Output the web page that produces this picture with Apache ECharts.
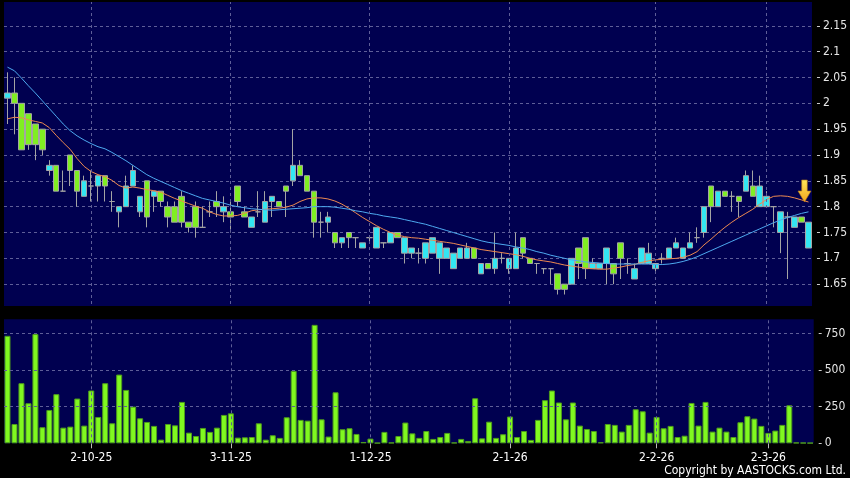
<!DOCTYPE html>
<html><head><meta charset="utf-8">
<script src="https://cdn.jsdelivr.net/npm/echarts@6/dist/echarts.min.js"></script>
<style>html,body{margin:0;padding:0;background:#000;}#c{width:850px;height:478px;}</style>
</head><body><div id="c"></div>
<script>
const openP = [2.01,2.02,2.00,1.98,1.96,1.95,1.87,1.88,1.83,1.90, 1.87,1.82,1.84,1.84,1.86,1.81,1.79,1.80,1.84,1.79,
 1.85,1.82,1.83,1.80,1.80,1.82,1.77,1.80,1.76,1.79, 1.81,1.79,1.79,1.84,1.79,1.76,1.79,1.77,1.81,1.81,
 1.84,1.85,1.88,1.86,1.83,1.77,1.77,1.75,1.73,1.75, 1.74,1.72,1.74,1.72,1.73,1.73,1.75,1.71,1.71,1.71,
 1.70,1.71,1.70,1.70,1.68,1.70,1.70,1.72,1.67,1.69, 1.68,1.70,1.68,1.68,1.74,1.70,1.69,1.68,1.68,1.67,
 1.65,1.65,1.72,1.74,1.68,1.68,1.69,1.69,1.73,1.69, 1.66,1.69,1.69,1.68,1.70,1.70,1.72,1.70,1.72,1.74,
 1.75,1.84,1.80,1.83,1.82,1.82,1.83,1.84,1.80,1.80, 1.80,1.75,1.78,1.76,1.78,1.72];
const closeP = [2.02,2.00,1.91,1.92,1.92,1.91,1.88,1.83,1.83,1.87, 1.83,1.85,1.84,1.86,1.84,1.81,1.80,1.84,1.87,1.82,
 1.78,1.83,1.81,1.78,1.77,1.77,1.76,1.76,1.76,1.79, 1.80,1.80,1.78,1.81,1.78,1.78,1.79,1.81,1.82,1.80,
 1.83,1.88,1.86,1.83,1.77,1.77,1.78,1.73,1.74,1.74, 1.74,1.73,1.74,1.76,1.73,1.75,1.74,1.74,1.72,1.71,
 1.73,1.74,1.73,1.72,1.71,1.72,1.72,1.70,1.69,1.68, 1.70,1.70,1.70,1.72,1.71,1.69,1.69,1.68,1.68,1.64,
 1.64,1.70,1.69,1.68,1.69,1.69,1.72,1.67,1.70,1.69, 1.68,1.72,1.71,1.69,1.70,1.72,1.73,1.72,1.73,1.74,
 1.80,1.80,1.83,1.82,1.82,1.81,1.86,1.82,1.84,1.82, 1.80,1.79,1.78,1.78,1.77,1.77];
const lowP = [1.96,1.94,1.91,1.91,1.89,1.90,1.86,1.83,1.83,1.84, 1.80,1.82,1.81,1.81,1.81,1.79,1.76,1.80,1.84,1.78,
 1.76,1.79,1.80,1.76,1.77,1.76,1.75,1.74,1.76,1.78, 1.78,1.77,1.75,1.80,1.78,1.76,1.78,1.77,1.78,1.80,
 1.78,1.84,1.86,1.83,1.74,1.74,1.75,1.72,1.72,1.72, 1.72,1.72,1.73,1.72,1.72,1.73,1.74,1.69,1.70,1.69,
 1.69,1.71,1.67,1.70,1.68,1.70,1.70,1.70,1.67,1.68, 1.67,1.69,1.67,1.68,1.70,1.69,1.67,1.67,1.65,1.63,
 1.63,1.65,1.66,1.66,1.68,1.68,1.65,1.65,1.66,1.67, 1.66,1.69,1.69,1.67,1.69,1.70,1.72,1.70,1.72,1.73,
 1.74,1.77,1.80,1.82,1.79,1.78,1.83,1.82,1.80,1.80, 1.76,1.71,1.66,1.76,1.77,1.72];
const highP = [2.06,2.05,2.00,1.98,1.96,1.95,1.89,1.88,1.87,1.90, 1.87,1.86,1.87,1.86,1.86,1.83,1.80,1.86,1.88,1.82,
 1.85,1.83,1.83,1.81,1.81,1.83,1.77,1.81,1.80,1.81, 1.83,1.82,1.81,1.84,1.80,1.78,1.83,1.83,1.82,1.81,
 1.84,1.95,1.89,1.86,1.83,1.79,1.79,1.75,1.74,1.75, 1.74,1.73,1.74,1.76,1.73,1.75,1.75,1.74,1.72,1.72,
 1.73,1.74,1.73,1.72,1.71,1.72,1.73,1.72,1.69,1.69, 1.75,1.71,1.70,1.75,1.74,1.70,1.69,1.68,1.68,1.67,
 1.65,1.70,1.72,1.74,1.70,1.69,1.72,1.69,1.73,1.70, 1.69,1.72,1.73,1.69,1.71,1.72,1.74,1.72,1.75,1.76,
 1.80,1.84,1.83,1.83,1.83,1.82,1.87,1.87,1.86,1.83, 1.80,1.79,1.79,1.78,1.78,1.77];
const volume = [735,132,411,274,747,110,228,336,107,114, 306,121,361,180,411,137,470,365,251,171,
 146,119,25,132,123,283,73,50,105,78, 107,194,205,39,41,43,137,25,55,37,
 178,495,160,155,810,164,46,349,96,103, 64,9,32,3,78,5,50,142,68,37,
 84,30,43,71,5,30,16,308,34,148, 37,62,183,43,84,23,160,295,361,279,
 164,279,121,98,84,7,132,126,80,126, 233,219,73,180,103,119,43,52,276,121,
 283,80,107,80,43,144,185,169,119,71, 87,126,260,5,4,3];
const maShort = [1.970,1.973,1.972,1.968,1.965,1.962,1.953,1.938,1.924,1.911, 1.893,1.878,1.868,1.862,1.858,1.851,1.841,1.836,1.838,1.836,
 1.833,1.831,1.828,1.822,1.816,1.811,1.806,1.801,1.797,1.790, 1.785,1.782,1.782,1.783,1.787,1.792,1.794,1.795,1.796,1.797,
 1.799,1.803,1.810,1.815,1.817,1.817,1.815,1.811,1.805,1.797, 1.788,1.779,1.771,1.763,1.756,1.750,1.745,1.742,1.740,1.739,
 1.737,1.735,1.733,1.731,1.729,1.726,1.723,1.720,1.717,1.715, 1.713,1.711,1.709,1.707,1.704,1.700,1.697,1.695,1.693,1.690,
 1.687,1.685,1.683,1.681,1.680,1.679,1.679,1.681,1.683,1.686, 1.688,1.692,1.695,1.697,1.698,1.699,1.700,1.702,1.706,1.713,
 1.726,1.737,1.749,1.760,1.770,1.779,1.787,1.795,1.805,1.814, 1.820,1.821,1.820,1.817,1.813,1.809];
const maLong = [2.070,2.063,2.049,2.034,2.020,2.005,1.990,1.975,1.960,1.947, 1.937,1.929,1.922,1.916,1.912,1.905,1.897,1.889,1.880,1.871,
 1.862,1.855,1.849,1.843,1.837,1.831,1.826,1.821,1.816,1.813, 1.810,1.807,1.803,1.800,1.798,1.796,1.795,1.794,1.793,1.794,
 1.795,1.796,1.797,1.798,1.800,1.800,1.800,1.799,1.797,1.795, 1.792,1.790,1.787,1.785,1.782,1.780,1.778,1.775,1.772,1.769,
 1.766,1.762,1.758,1.754,1.750,1.746,1.742,1.738,1.734,1.731, 1.729,1.727,1.725,1.722,1.720,1.717,1.713,1.710,1.706,1.703,
 1.700,1.697,1.695,1.693,1.692,1.691,1.690,1.689,1.689,1.689, 1.689,1.689,1.689,1.688,1.688,1.689,1.691,1.694,1.698,1.703,
 1.709,1.715,1.721,1.727,1.733,1.739,1.745,1.751,1.757,1.763, 1.769,1.774,1.779,1.783,1.787,1.790];
const tickIndex = [12, 32, 52, 72, 93, 109];
const tickLabels = ['2-10-25', '3-11-25', '1-12-25', '2-1-26', '2-2-26', '2-3-26'];

const cats = openP.map((_, i) => i);
const labelAt = {};
tickIndex.forEach((k, j) => { labelAt[k] = tickLabels[j]; });
const candles = openP.map((o, i) => [o, closeP[i], lowP[i], highP[i]]);
const last = openP.length - 1;

const FONT = "'DejaVu Sans Condensed','Liberation Sans Narrow','DejaVu Sans',sans-serif";
const gridLine = { color: '#5e5e98', type: [3, 3], width: 1 };
const vLines = {
  symbol: ['none', 'none'], silent: true, animation: false,
  label: { show: false }, lineStyle: gridLine,
  data: tickIndex.map(k => ({ xAxis: k }))
};

const chart = echarts.init(document.getElementById('c'), null, { renderer: 'canvas' });
chart.setOption({
  backgroundColor: '#000',
  animation: false,
  grid: [
    { left: 4, width: 809.7, top: -8, height: 318, show: true, backgroundColor: '#000050', borderWidth: 0 },
    { left: 4, width: 809.7, top: 319.3, height: 124, show: true, backgroundColor: '#000050', borderWidth: 0 }
  ],
  xAxis: [
    { type: 'category', gridIndex: 0, data: cats, boundaryGap: true,
      axisLine: { show: false }, axisTick: { show: false }, axisLabel: { show: false }, splitLine: { show: false } },
    { type: 'category', gridIndex: 1, data: cats, boundaryGap: true,
      axisLine: { show: false },
      axisTick: { show: true, alignWithLabel: true, interval: (i) => (i in labelAt), length: 5, lineStyle: { color: '#bbbbbb' } },
      axisLabel: { interval: (i) => (i in labelAt), formatter: (v) => labelAt[v] || '', color: '#ffffff', fontSize: 12, fontFamily: FONT, margin: 9 },
      splitLine: { show: false } }
  ],
  yAxis: [
    { type: 'value', gridIndex: 0, position: 'right', offset: 5, min: 1.6, max: 2.2, interval: 0.05,
      axisLine: { show: false },
      axisTick: { show: true, length: 3, lineStyle: { color: '#cccccc' } },
      axisLabel: { color: '#e6e6e6', fontSize: 12, fontFamily: FONT, margin: 6, showMinLabel: false, showMaxLabel: false,
        formatter: (v) => String(parseFloat(Number(v).toFixed(2))) },
      splitLine: { show: true, lineStyle: gridLine } },
    { type: 'value', gridIndex: 1, position: 'right', offset: 5, min: 0, max: 848, interval: 250,
      axisLine: { show: false },
      axisTick: { show: true, length: 3, lineStyle: { color: '#cccccc' } },
      axisLabel: { color: '#e6e6e6', fontSize: 12, fontFamily: FONT, margin: 6, showMaxLabel: false },
      splitLine: { show: false } }
  ],
  series: [
    { type: 'candlestick', xAxisIndex: 0, yAxisIndex: 0, data: candles, barWidth: 6,
      itemStyle: { color: '#33e6f2', color0: '#80ee22', borderColor: '#a4a4a4', borderColor0: '#a4a4a4', borderColorDoji: '#a4a4a4', borderWidth: 1 },
      markLine: vLines, z: 3 },
    { type: 'line', xAxisIndex: 0, yAxisIndex: 0, data: maShort, symbol: 'none', smooth: false,
      lineStyle: { color: '#ee8a50', width: 1 }, z: 4,
      markPoint: { silent: true, animation: false,
        data: [{ coord: [last, maShort[last]], symbol: 'path://M4,0 L10,0 L10,11 L14,11 L7,22 L0,11 L4,11 Z',
          symbolSize: [13, 22], symbolOffset: [-4, -11], symbolKeepAspect: false,
          itemStyle: { color: new echarts.graphic.LinearGradient(0, 0, 0, 1, [{ offset: 0, color: '#ffe85a' }, { offset: 1, color: '#f2a41c' }]), borderColor: '#b07818', borderWidth: 0.6 },
          label: { show: false } }] } },
    { type: 'line', xAxisIndex: 0, yAxisIndex: 0, data: maLong, symbol: 'none', smooth: false,
      lineStyle: { color: '#4eaaf0', width: 1 }, z: 4 },
    { type: 'bar', xAxisIndex: 1, yAxisIndex: 1, data: volume, barWidth: 6,
      itemStyle: { color: '#80f820', borderColor: '#4e9c1c', borderWidth: 1 },
      markLine: Object.assign({}, vLines, { data: tickIndex.map(k => ({ xAxis: k })).concat([{ yAxis: 250 }, { yAxis: 500 }, { yAxis: 750 }]) }) }
  ],
  graphic: [
    { type: 'rect', z: 100, shape: { x: 0, y: 306, width: 850, height: 13 }, style: { fill: '#000' } },
    { type: 'rect', z: 100, shape: { x: 0, y: 0, width: 850, height: 2 }, style: { fill: '#000' } },
    { type: 'text', z: 100, right: 4, top: 465, style: { text: 'Copyright by AASTOCKS.com Ltd.', fill: '#ffffff', font: '12px ' + FONT } }
  ]
});
</script></body></html>
